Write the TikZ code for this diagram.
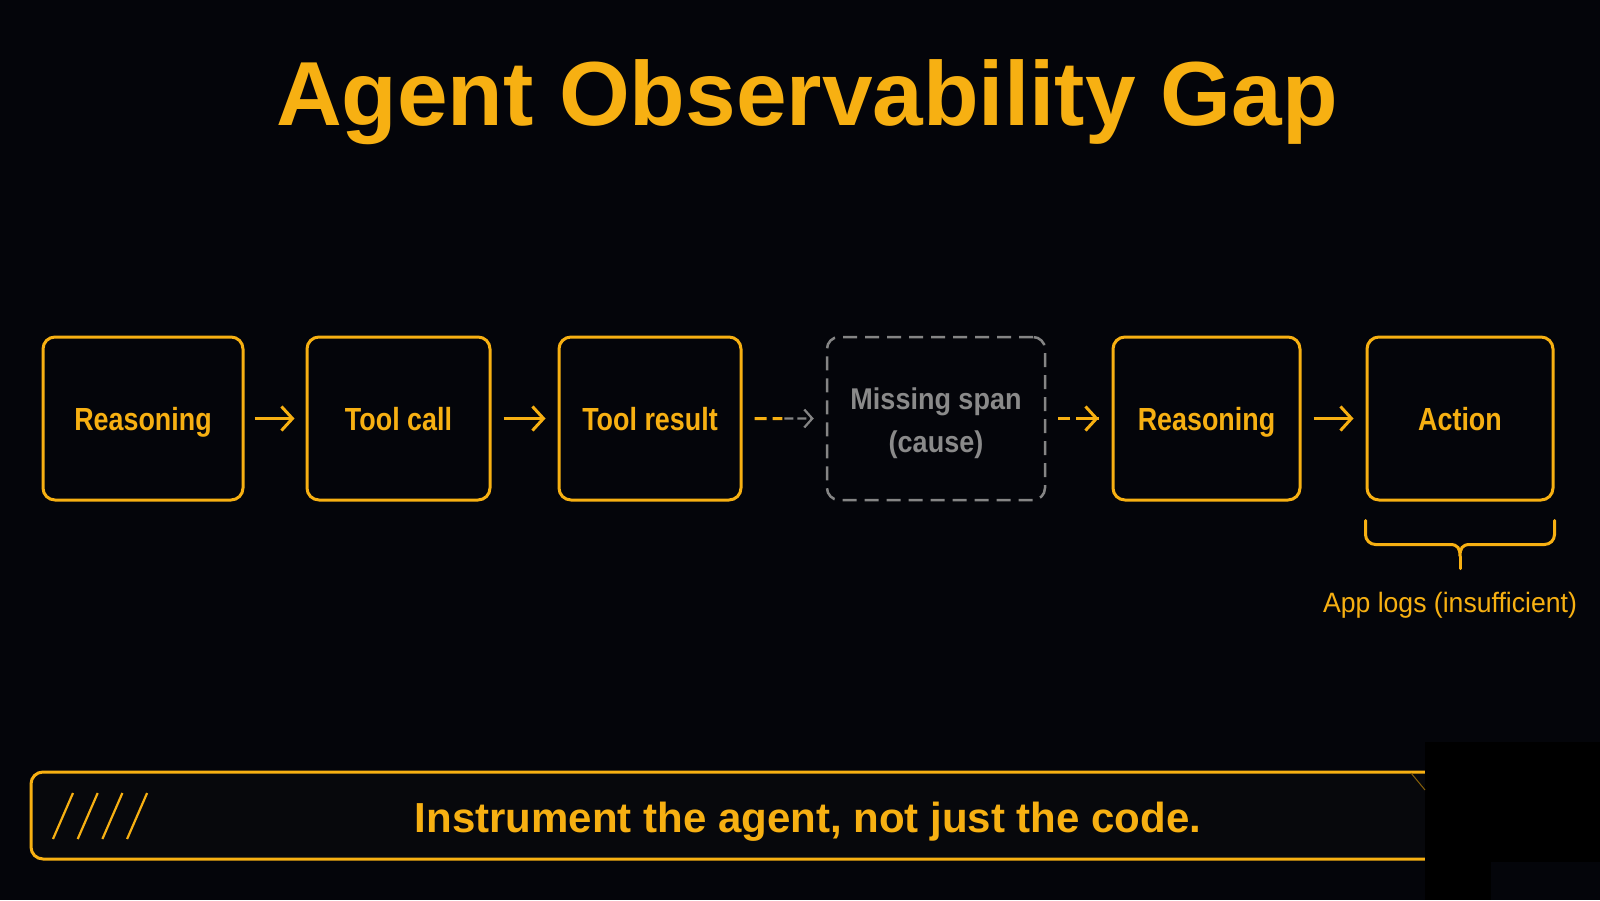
\documentclass[tikz,border=0pt]{standalone}
\usepackage{fontspec}
\setmainfont{Liberation Sans}
\newfontfamily\labfont[FakeStretch=0.84]{Liberation Sans}
\newfontfamily\misfont[FakeStretch=0.9]{Liberation Sans}
\newfontfamily\logfont[FakeStretch=0.95]{Liberation Sans}
\usetikzlibrary{arrows.meta,calc}
\definecolor{bg}{HTML}{04050A}
\definecolor{amber}{HTML}{F7B012}
\definecolor{greyt}{HTML}{8A8A8A}
\definecolor{greyd}{HTML}{858585}
\definecolor{overlay}{HTML}{14171F}
\definecolor{bannerfill}{HTML}{07080C}
\begin{document}
\begin{tikzpicture}[x=1pt,y=-1pt,
  stepbox/.style={draw=amber, line width=3pt, rounded corners=12pt, minimum height=163pt,
    inner sep=0pt, text=amber, font=\labfont\bfseries\fontsize{32}{38}\selectfont,
    text height=23pt, text depth=0pt},
  missbox/.style={draw=greyd, line width=2.5pt, rounded corners=12pt, dash pattern=on 14pt off 8pt,
    minimum height=163pt, minimum width=218pt, inner sep=0pt, text=greyt, align=center,
    font=\misfont\bfseries\fontsize{30}{43}\selectfont, text height=68pt, text depth=0pt},
  arr/.style={draw=amber, line width=3pt, -{Straight Barb[length=11pt,width=24pt]}},
  darr/.style={draw=amber, line width=3pt, dash pattern=on 12pt off 6pt},
  brace/.style={draw=amber, line width=3pt, line cap=round},
]
\useasboundingbox (0,0) rectangle (1600,900);
\fill[bg] (0,0) rectangle (1600,900);

% title
\node[anchor=base, text=amber, font=\bfseries\fontsize{91}{100}\selectfont, inner sep=0pt]
  (title) at (807,125) {Agent Observability Gap};

% steps
\node[stepbox, minimum width=200pt] (b1) at (143,418.5) {Reasoning};
\node[stepbox, minimum width=183pt] (b2) at (398.5,418.5) {Tool call};
\node[stepbox, minimum width=182pt] (b3) at (650,418.5) {Tool result};
\node[missbox] (m) at (936,418.5) {Missing span\\(cause)};
\node[stepbox, minimum width=187pt] (b5) at (1206.5,418.5) {Reasoning};
\node[stepbox, minimum width=186pt] (b6) at (1460,418.5) {Action};

% connectors
\draw[arr] ([xshift=10pt]b1.east) -- ([xshift=-11pt]b2.west);
\draw[arr] ([xshift=12pt]b2.east) -- ([xshift=-12pt]b3.west);
\coordinate (d1) at ($(b3.east)!0.48!(m.west)$);
\draw[darr] ([xshift=12pt]b3.east) -- (d1);
\draw[draw=greyd, line width=2.2pt, dash pattern=on 9pt off 4pt, -{Straight Barb[length=8pt,width=18pt]}]
  ([xshift=2pt]d1) -- ([xshift=-12pt]m.west);
\draw[darr] ([xshift=12pt]m.east) -- ([xshift=-13pt]b5.west);
\draw[arr] ([xshift=-29pt]b5.west) -- ([xshift=-13pt]b5.west);
\draw[arr] ([xshift=12pt]b5.east) -- ([xshift=-12pt]b6.west);

% brace under Action
\coordinate (bl) at ($(b6.south west)+(0,19)$);
\coordinate (br) at ($(b6.south east)+(0,19)$);
\coordinate (bt) at ($(b6.south)+(0,67)$);
\draw[brace, rounded corners=10pt] (bl) |- ($(b6.south)+(-10,43)$);
\draw[brace, rounded corners=10pt] (br) |- ($(b6.south)+(10,43)$);
\draw[brace] ($(b6.south)+(-10,43)$) .. controls ($(b6.south)+(-2,43)$) and ($(b6.south)+(0,47)$) .. ($(b6.south)+(0,55)$)
  .. controls ($(b6.south)+(0,47)$) and ($(b6.south)+(2,43)$) .. ($(b6.south)+(10,43)$);
\draw[brace] ($(b6.south)+(0,55)$) -- (bt);
\node[anchor=base, text=amber, font=\logfont\fontsize{28}{32}\selectfont, inner sep=0pt]
  (logs) at (1450,612) {App logs (insufficient)};

% banner
\draw[draw=amber, fill=bannerfill, line width=3pt, rounded corners=12pt] (31,772) rectangle (1480,859);
\foreach \i in {0,1,2,3} {
  \draw[amber, line width=2.2pt] ({53+24.7*\i},839) -- ({73+24.7*\i},793);
}
\node[anchor=base, text=amber, font=\bfseries\fontsize{42}{48}\selectfont, inner sep=0pt]
  (motto) at (808,832) {Instrument the agent, not just the code.};

% overlay artefact bottom right
\fill[overlay] (1425,742) rectangle (1600,861.5);
\fill[overlay] (1425,861) rectangle (1491,900);
\draw[amber!55!black, line width=1pt] (1411,773) -- (1425,790);
\end{tikzpicture}
\end{document}
